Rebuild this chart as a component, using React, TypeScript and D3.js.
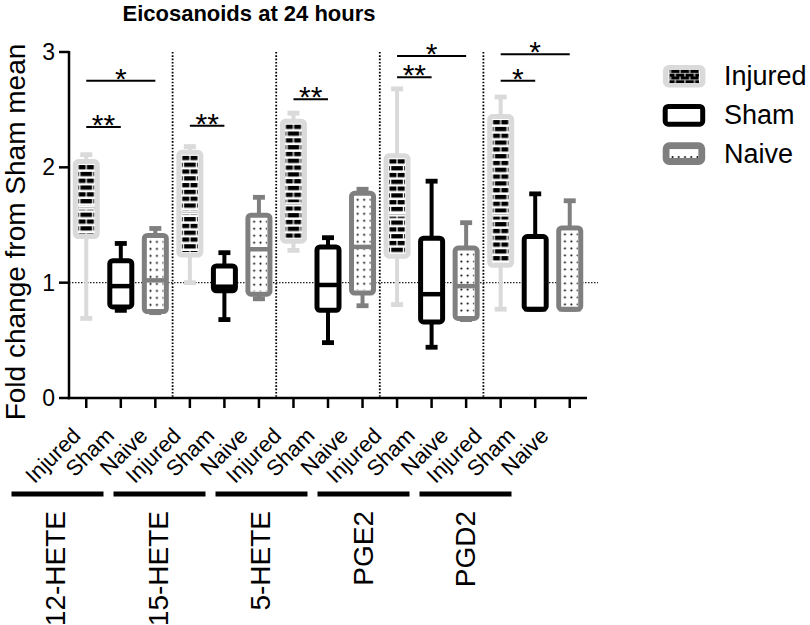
import React from 'react';
import * as d3 from 'd3';

const groups = ["12-HETE", "15-HETE", "5-HETE", "PGE2", "PGD2"];
const conditions = ["Injured", "Sham", "Naive"];
// [min, q1, median, q3, max] per group
const injuredStats = [
  [0.69, 1.40, 1.65, 2.05, 2.11],
  [1.00, 1.24, 1.61, 2.13, 2.18],
  [1.28, 1.36, 1.68, 2.40, 2.47],
  [0.81, 1.23, 1.59, 2.10, 2.68],
  [0.77, 1.15, 1.59, 2.44, 2.61],
];
const shamStats = [
  [0.76, 0.79, 0.97, 1.19, 1.34],
  [0.68, 0.93, 0.965, 1.145, 1.26],
  [0.48, 0.76, 0.98, 1.31, 1.39],
  [0.44, 0.66, 0.90, 1.385, 1.88],
  [0.77, 0.77, 0.77, 1.40, 1.77],
];
const naiveStats = [
  [0.74, 0.75, 1.02, 1.41, 1.47],
  [0.86, 0.90, 1.29, 1.585, 1.74],
  [0.80, 0.91, 1.31, 1.775, 1.81],
  [0.68, 0.69, 0.97, 1.30, 1.52],
  [0.77, 0.77, 0.77, 1.475, 1.71],
];
const yTicks = [0, 1, 2, 3];
const referenceValue = 1;
// significance bars: group, from condition, to condition, y value, label
const sigGroup = [0, 0, 1, 2, 3, 3, 4, 4];
const sigFrom = [0, 0, 0, 0, 0, 0, 0, 0];
const sigTo = [1, 2, 1, 1, 1, 2, 1, 2];
const sigY = [2.35, 2.75, 2.36, 2.59, 2.78, 2.965, 2.75, 2.98];
const sigLabel = ["**", "*", "**", "**", "**", "*", "*", "*"];

const FONT = '"Liberation Sans", Arial, Helvetica, sans-serif';
const INJ = '#dadada';
const NAI = '#7f7f7f';

const statsFor = [injuredStats, shamStats, naiveStats];
const strokeFor = [INJ, '#000', NAI];

export default function App() {
  const W = 810, H = 625;
  const left = 69, right = 587, top = 52, bottom = 398;
  const idx = d3.range(groups.length * conditions.length);
  const x = d3.scaleBand<number>().domain(idx).range([left, right]).padding(0);
  const bw = x.bandwidth();
  const cx = (i: number) => (x(i) as number) + bw / 2;
  const y = d3.scaleLinear().domain([0, 3]).range([bottom, top]);
  const labelX = d3.scaleLinear().domain([0, idx.length - 1]).range([82, 550]);
  const groupX = d3.scaleLinear().domain([0, groups.length - 1]).range([57.5, 465.5]);
  const groupTextX = d3.scaleLinear().domain([0, groups.length - 1]).range([55, 465]);

  const boxHalf = 11;
  const inset = 3.0;

  const defs: JSX.Element[] = [];
  const boxes: JSX.Element[] = [];

  groups.forEach((g, gi) => {
    conditions.forEach((c, ci) => {
      const i = gi * 3 + ci;
      const s = statsFor[ci][gi];
      const xc = cx(i);
      const col = strokeFor[ci];
      const [mn, q1, md, q3, mx] = s;
      const yTop = y(q3), yBot = y(q1);
      const innerX = xc - boxHalf + inset;
      const innerW = boxHalf * 2 - inset * 2;
      const pid = `pat-${gi}-${ci}`;
      if (ci === 0) {
        defs.push(
          <pattern key={pid} id={pid} patternUnits="userSpaceOnUse" x={innerX} y={yTop + inset + 0.5} width={16} height={13.6}>
            <rect x={0} y={0} width={16} height={13.6} fill="#fff" />
            <rect x={0.4} y={0} width={7} height={4.3} fill="#000" />
            <rect x={8.6} y={0} width={7} height={4.3} fill="#000" />
            <rect x={0} y={6.8} width={0.8} height={4.3} fill="#000" />
            <rect x={2.2} y={6.8} width={11.6} height={4.3} fill="#000" />
            <rect x={15.2} y={6.8} width={0.8} height={4.3} fill="#000" />
          </pattern>
        );
      } else if (ci === 2) {
        defs.push(
          <pattern key={pid} id={pid} patternUnits="userSpaceOnUse" x={innerX} y={yTop + inset} width={6.4} height={7}>
            <rect x={0} y={0} width={6.4} height={7} fill="#fff" />
            <circle cx={3.2} cy={3.5} r={1} fill="#000" />
          </pattern>
        );
      }
      boxes.push(
        <g key={`box-${i}`}>
          <line x1={xc} x2={xc} y1={y(mx)} y2={y(mn)} stroke={col} strokeWidth={4} />
          <line x1={xc - 6} x2={xc + 6} y1={y(mx)} y2={y(mx)} stroke={col} strokeWidth={4.8} />
          <line x1={xc - 6} x2={xc + 6} y1={y(mn)} y2={y(mn)} stroke={col} strokeWidth={4.8} />
          <rect x={xc - boxHalf} y={yTop} width={boxHalf * 2} height={yBot - yTop} rx={3} fill="#fff" stroke={col} strokeWidth={5} />
          {ci !== 1 && (
            <rect x={innerX} y={yTop + inset} width={innerW} height={Math.max(0, yBot - yTop - inset * 2)} fill={`url(#${pid})`} />
          )}
          {ci === 0 && (
            <g>
              <line x1={innerX} x2={innerX + innerW} y1={y(md)} y2={y(md)} stroke="#fff" strokeWidth={4} />
              <line x1={innerX} x2={innerX + innerW} y1={y(md)} y2={y(md)} stroke="#b8b8b8" strokeWidth={1} />
            </g>
          )}
          {ci !== 0 && (
            <line x1={xc - boxHalf} x2={xc + boxHalf} y1={y(md)} y2={y(md)} stroke={col} strokeWidth={4.5} />
          )}
        </g>
      );
    });
  });

  // legend patterns
  defs.push(
    <pattern key="leg-brick" id="leg-brick" patternUnits="userSpaceOnUse" x={670.5} y={70} width={9.6} height={6.6}>
      <rect x={0} y={0} width={9.6} height={6.6} fill="#fff" />
      <rect x={0.5} y={0} width={8.6} height={3} fill="#000" />
      <rect x={5.3} y={3.6} width={8.6} height={3} fill="#000" />
      <rect x={-4.3} y={3.6} width={8.6} height={3} fill="#000" />
    </pattern>
  );
  defs.push(
    <pattern key="leg-dot" id="leg-dot" patternUnits="userSpaceOnUse" x={669.5} y={150} width={6.2} height={10}>
      <rect x={0} y={0} width={6.2} height={10} fill="#fff" />
      <circle cx={3.1} cy={7} r={0.95} fill="#000" />
    </pattern>
  );

  const sepXs = d3.range(groups.length - 1).map((g) => (x(g * 3 + 2) as number) + bw);

  return (
    <svg width={W} height={H} style={{ position: 'absolute', left: 0, top: 0, background: '#fff' }} fontFamily={FONT}>
      <defs>{defs}</defs>
      <rect x={0} y={0} width={W} height={H} fill="#fff" />
      {/* title */}
      <text x={249} y={21} textAnchor="middle" fontSize={22} fontWeight="bold">Eicosanoids at 24 hours</text>
      {/* y axis label */}
      <text transform={`translate(25,${(top + bottom) / 2 + 7}) rotate(-90)`} textAnchor="middle" fontSize={28}>Fold change from Sham mean</text>
      {/* separators */}
      {sepXs.map((sx, k) => (
        <line key={`sep-${k}`} x1={sx} x2={sx} y1={top} y2={bottom} stroke="#000" strokeWidth={1.8} strokeDasharray="1.6 1.7" />
      ))}
      {/* reference line */}
      <line x1={left} x2={598} y1={y(referenceValue)} y2={y(referenceValue)} stroke="#222" strokeWidth={1.1} strokeDasharray="1.5 1.5" />
      {boxes}
      {/* axes */}
      <line x1={left} x2={left} y1={top - 1} y2={bottom + 1.2} stroke="#000" strokeWidth={2.5} />
      {yTicks.map((t) => (
        <g key={`yt-${t}`}>
          <line x1={left - 10} x2={left} y1={y(t)} y2={y(t)} stroke="#000" strokeWidth={2.5} />
          <text x={55} y={y(t)} dy="0.35em" textAnchor="end" fontSize={23}>{t}</text>
        </g>
      ))}
      <line x1={left - 1.2} x2={right} y1={bottom} y2={bottom} stroke="#000" strokeWidth={2.5} />
      {idx.map((i) => (
        <line key={`xt-${i}`} x1={cx(i)} x2={cx(i)} y1={bottom} y2={bottom + 10} stroke="#000" strokeWidth={2.5} />
      ))}
      {idx.map((i) => (
        <text key={`xl-${i}`} transform={`translate(${labelX(i)},437) rotate(-45)`} textAnchor="end" fontSize={22}>
          {conditions[i % 3]}
        </text>
      ))}
      {/* group bars + labels */}
      {groups.map((g, gi) => (
        <g key={`grp-${gi}`}>
          <line x1={groupX(gi) - 46} x2={groupX(gi) + 46} y1={494} y2={494} stroke="#000" strokeWidth={5} />
          <text transform={`translate(${groupTextX(gi) + 10},511) rotate(-90)`} textAnchor="end" fontSize={28}>{g}</text>
        </g>
      ))}
      {/* significance */}
      {sigGroup.map((g, k) => {
        const x1 = cx(g * 3 + sigFrom[k]);
        const x2 = cx(g * 3 + sigTo[k]);
        const yy = y(sigY[k]);
        return (
          <g key={`sig-${k}`}>
            <line x1={x1} x2={x2} y1={yy} y2={yy} stroke="#000" strokeWidth={2} />
            <text x={(x1 + x2) / 2} y={yy + 8} textAnchor="middle" fontSize={30}>{sigLabel[k]}</text>
          </g>
        );
      })}
      {/* legend */}
      <g>
        <rect x={665.7} y={67.7} width={37} height={17} rx={3} fill="#fff" stroke={INJ} strokeWidth={5.5} />
        <rect x={669.5} y={70} width={29.5} height={13} fill="url(#leg-brick)" />
        <text x={724} y={84.5} fontSize={27}>{conditions[0]}</text>
        <rect x={665.2} y={106.5} width={37.5} height={17.7} rx={3} fill="#fff" stroke="#000" strokeWidth={5} />
        <text x={724} y={123.5} fontSize={27}>{conditions[1]}</text>
        <rect x={666.2} y={145.8} width={35.5} height={15.7} rx={3} fill="#fff" stroke={NAI} strokeWidth={7} />
        <rect x={669.7} y={149.3} width={28.5} height={8.7} fill="url(#leg-dot)" />
        <text x={724} y={162.5} fontSize={27}>{conditions[2]}</text>
      </g>
    </svg>
  );
}
